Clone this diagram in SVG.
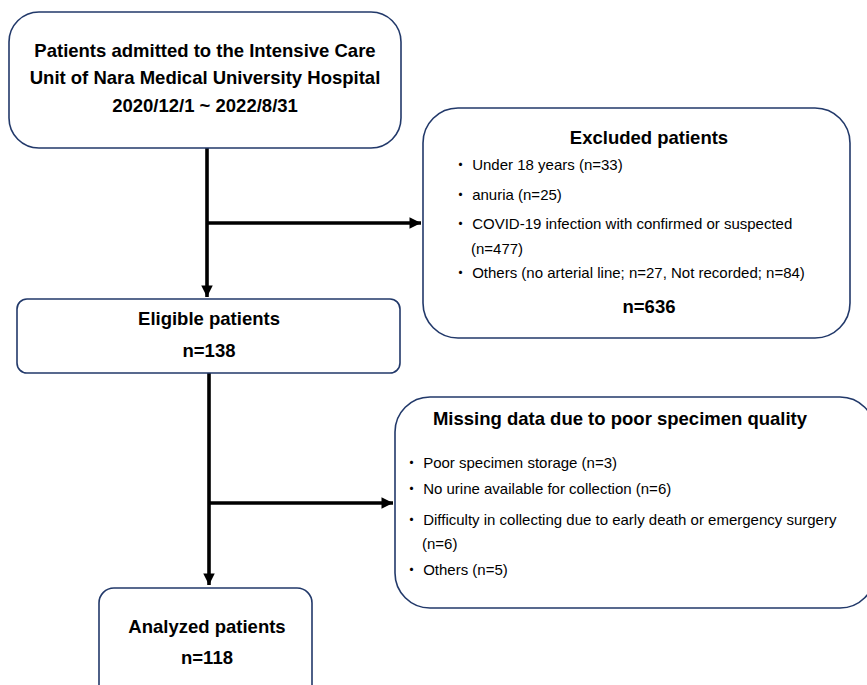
<svg xmlns="http://www.w3.org/2000/svg" width="867" height="685" viewBox="0 0 867 685">
<style>
.box{fill:#fff;stroke:#22396a;stroke-width:1.6}
.h{font-family:"Liberation Sans",Arial,sans-serif;font-weight:bold;font-size:18.5px;fill:#000;text-anchor:middle}
.t{font-family:"Liberation Sans","Noto Sans CJK JP",Arial,sans-serif;font-size:15px;fill:#000}
.ln{stroke:#000;stroke-width:3.6;fill:none}
</style>
<defs>
<marker id="ah" viewBox="0 0 10 10" refX="10" refY="5" markerWidth="3.2" markerHeight="3.2" markerUnits="strokeWidth" orient="auto">
<path d="M0,0 L10,5 L0,10 z" fill="#000"/>
</marker>
</defs>
<rect width="867" height="685" fill="#fff"/>
<g id="connectors">
<path class="ln" d="M207,148 V297" marker-end="url(#ah)"/>
<path class="ln" d="M207,223 H421" marker-end="url(#ah)"/>
<path class="ln" d="M209,373 V585" marker-end="url(#ah)"/>
<path class="ln" d="M209,503 H393" marker-end="url(#ah)"/>
</g>
<g id="admitted">
<rect class="box" x="9" y="12" width="392" height="136" rx="30"/>
<text class="h" x="205" y="57">Patients admitted to the Intensive Care</text>
<text class="h" x="205" y="84">Unit of Nara Medical University Hospital</text>
<text class="h" x="205" y="112">2020/12/1 ~ 2022/8/31</text>
</g>
<g id="excluded">
<rect class="box" x="423" y="108" width="427" height="230" rx="35"/>
<text class="h" x="649" y="144">Excluded patients</text>
<text class="t" x="453" y="170">・ Under 18 years (n=33)</text>
<text class="t" x="453" y="200">・ anuria (n=25)</text>
<text class="t" x="453" y="229">・ COVID-19 infection with confirmed or suspected</text>
<text class="t" x="471" y="254">(n=477)</text>
<text class="t" x="453" y="278">・ Others (no arterial line; n=27, Not recorded; n=84)</text>
<text class="h" x="649" y="313">n=636</text>
</g>
<g id="eligible">
<rect class="box" x="17" y="299" width="383" height="74" rx="10"/>
<text class="h" x="209" y="325">Eligible patients</text>
<text class="h" x="209" y="357">n=138</text>
</g>
<g id="missing">
<rect class="box" x="395" y="397" width="480" height="211" rx="35"/>
<text class="h" x="620" y="425">Missing data due to poor specimen quality</text>
<text class="t" x="404" y="468">・ Poor specimen storage (n=3)</text>
<text class="t" x="404" y="494">・ No urine available for collection (n=6)</text>
<text class="t" x="404" y="525">・ Difficulty in collecting due to early death or emergency surgery</text>
<text class="t" x="422" y="549">(n=6)</text>
<text class="t" x="404" y="575">・ Others (n=5)</text>
</g>
<g id="analyzed">
<rect class="box" x="99" y="588" width="213" height="120" rx="15"/>
<text class="h" x="207" y="633">Analyzed patients</text>
<text class="h" x="207" y="664">n=118</text>
</g>
</svg>
